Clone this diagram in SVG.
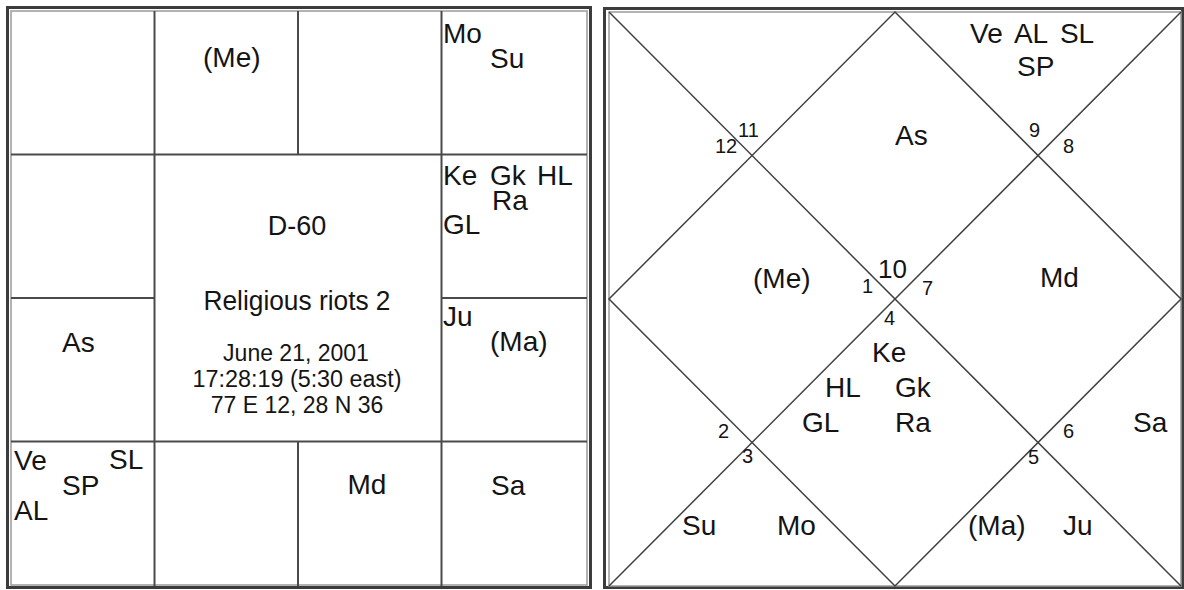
<svg xmlns="http://www.w3.org/2000/svg" width="1184" height="590" viewBox="0 0 1184 590">
<style>
.frame-out{fill:none;stroke:#3c3c3c;stroke-width:3}
.frame-in{fill:none;stroke:#9a9a9a;stroke-width:1.5}
.grid{stroke:#4a4a4a;stroke-width:2;fill:none}
.diag{stroke:#404040;stroke-width:1.5;fill:none}
text{font-family:"Liberation Sans",Arial,sans-serif;fill:#141414}
.pl{font-size:28px}
.num{font-size:20px}
.mid{text-anchor:middle}
.title{font-size:27px}
.info{font-size:23px}
</style>
<rect x="0" y="0" width="1184" height="590" fill="#ffffff"/>

<!-- South Indian chart (left) -->
<g id="south-chart-frame">
<rect class="frame-out" x="7.5" y="7.5" width="583" height="580"/>
<rect class="frame-in" x="11" y="11" width="576" height="574"/>
</g>
<g id="south-connectors">
<line class="grid" x1="154.5" y1="11" x2="154.5" y2="586"/>
<line class="grid" x1="441.5" y1="11" x2="441.5" y2="586"/>
<line class="grid" x1="298" y1="11" x2="298" y2="154.5"/>
<line class="grid" x1="298" y1="441.5" x2="298" y2="586"/>
<line class="grid" x1="11" y1="154.5" x2="587" y2="154.5"/>
<line class="grid" x1="11" y1="441.5" x2="587" y2="441.5"/>
<line class="grid" x1="11" y1="298" x2="154.5" y2="298"/>
<line class="grid" x1="441.5" y1="298" x2="587" y2="298"/>
</g>
<g id="s-cell-r1c2"><text class="pl" x="203" y="67">(Me)</text></g>
<g id="s-cell-r1c4"><text class="pl" x="443" y="43">Mo</text><text class="pl" x="490" y="68">Su</text></g>
<g id="s-cell-r2c4">
<text class="pl" x="443" y="185">Ke</text><text class="pl" x="490" y="185">Gk</text><text class="pl" x="537" y="185">HL</text>
<text class="pl" x="492" y="210">Ra</text>
<text class="pl" x="443" y="234">GL</text>
</g>
<g id="s-cell-r3c1"><text class="pl" x="62" y="352">As</text></g>
<g id="s-cell-r3c4"><text class="pl" x="443" y="326">Ju</text><text class="pl" x="490" y="351">(Ma)</text></g>
<g id="s-center">
<text class="title mid" x="297" y="235">D-60</text>
<text class="title mid" x="297" y="310" textLength="187" lengthAdjust="spacingAndGlyphs">Religious riots 2</text>
<text class="info mid" x="296" y="361">June 21, 2001</text>
<text class="info mid" x="297" y="387" textLength="209" lengthAdjust="spacingAndGlyphs">17:28:19 (5:30 east)</text>
<text class="info mid" x="297" y="413">77 E 12, 28 N 36</text>
</g>
<g id="s-cell-r4c1">
<text class="pl" x="14" y="470">Ve</text><text class="pl" x="109" y="469">SL</text>
<text class="pl" x="62" y="495">SP</text>
<text class="pl" x="14" y="520">AL</text>
</g>
<g id="s-cell-r4c3"><text class="pl mid" x="367" y="494">Md</text></g>
<g id="s-cell-r4c4"><text class="pl" x="491" y="495">Sa</text></g>

<!-- North Indian chart (right) -->
<g id="north-chart-frame">
<rect class="frame-out" x="604.5" y="8.5" width="578" height="579"/>
<rect class="frame-in" x="609" y="12" width="572" height="574"/>
</g>
<g id="north-connectors">
<line class="diag" x1="609" y1="12" x2="1181" y2="586"/>
<line class="diag" x1="1181" y1="12" x2="609" y2="586"/>
<polygon class="diag" points="895,12 1181,299 895,586 609,299"/>
</g>
<g id="h10">
<text class="pl" x="895" y="145">As</text>
<text x="878" y="278" style="font-size:26px">10</text>
</g>
<g id="h9"><text class="pl" x="970" y="43" word-spacing="5">Ve AL SL</text><text class="pl" x="1017" y="76">SP</text><text class="num" x="1029" y="137">9</text></g>
<g id="h8"><text class="num" x="1063" y="153">8</text></g>
<g id="h11"><text class="num" x="738" y="137">11</text></g>
<g id="h12"><text class="num" x="715" y="153">12</text></g>
<g id="h1"><text class="pl" x="753" y="288">(Me)</text><text class="num" x="862" y="293">1</text></g>
<g id="h7"><text class="num" x="922" y="295">7</text><text class="pl" x="1040" y="287">Md</text></g>
<g id="h4">
<text class="num" x="884" y="325">4</text>
<text class="pl" x="872" y="362">Ke</text>
<text class="pl" x="825" y="397">HL</text><text class="pl" x="895" y="397">Gk</text>
<text class="pl" x="802" y="432">GL</text><text class="pl" x="895" y="432">Ra</text>
</g>
<g id="h2"><text class="num" x="718" y="438">2</text></g>
<g id="h3"><text class="num" x="742" y="463">3</text><text class="pl" x="682" y="535">Su</text><text class="pl" x="777" y="535">Mo</text></g>
<g id="h6"><text class="num" x="1063" y="438">6</text><text class="pl" x="1133" y="432">Sa</text></g>
<g id="h5"><text class="num" x="1028" y="464">5</text><text class="pl" x="968" y="535">(Ma)</text><text class="pl" x="1063" y="535">Ju</text></g>
</svg>
